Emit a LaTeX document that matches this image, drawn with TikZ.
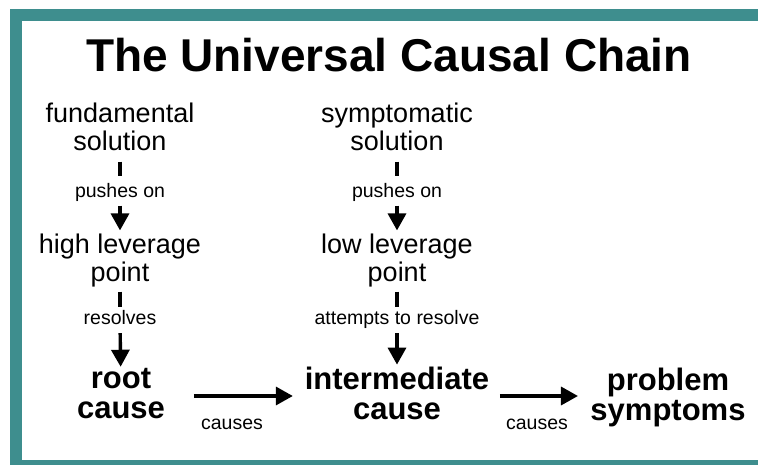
\documentclass[tikz,border=0pt]{standalone}
\usepackage{fontspec}
\setmainfont{Liberation Sans}
\usetikzlibrary{arrows.meta}
\definecolor{frameteal}{RGB}{62,142,142}

\begin{document}
\begin{tikzpicture}[x=1pt,y=-1pt,
  every node/.style={inner sep=0pt, outer sep=0pt, align=center},
  heading/.style={font=\bfseries\fontsize{46}{46}\selectfont},
  concept/.style={font=\fontsize{27}{28}\selectfont},
  keycause/.style={font=\bfseries\fontsize{31}{30}\selectfont},
  linklabel/.style={font=\fontsize{19.5}{20}\selectfont, text height=14pt, text depth=4.1pt},
  conn/.style={line width=3.4pt},
  arr/.style={conn, -{Triangle[length=17pt,width=18pt]}},
]
\useasboundingbox (0,0) rectangle (758,465);
% page and teal frame (open on the right)
\fill[white] (0,0) rectangle (758,465);
\fill[frameteal] (10,9) rectangle (758,465);
\fill[white] (21.5,21) rectangle (758,459.5);

% title
\node[heading] (title) at (389,55) {The Universal Causal Chain};

% solutions
\node[concept] (fund) at (120,126.7) {fundamental\\solution};
\node[concept] (symp) at (397,126.7) {symptomatic\\solution};

% leverage points
\node[concept] (high) at (120,261) {high leverage\\point};
\node[concept] (low)  at (397,261) {low leverage\\point};

% causal chain
\node[keycause] (root)  at (121,394) {root\\cause};
\node[keycause] (inter) at (397,393) {intermediate\\cause};
\node[keycause] (prob)  at (668,397) {problem\\symptoms};

% connector labels
\node[linklabel] (pushA) at (120,192.5) {pushes on};
\node[linklabel] (pushB) at (397,192.5) {pushes on};
\node[linklabel] (resA)  at (120,320) {resolves};
\node[linklabel] (resB)  at (397,320) {attempts to resolve};
\node[linklabel] (causeA) at (232,425) {causes};
\node[linklabel] (causeB) at (537,425) {causes};

% left column
\draw[conn, shorten <=11pt, shorten >=7.4pt] (fund) -- (pushA);
\draw[arr,  shorten <=4pt,  shorten >=4pt]   (pushA) -- (high);
\draw[conn, shorten <=4pt,  shorten >=4pt]   (high) -- (resA);
\draw[arr,  shorten <=4pt,  shorten >=2pt]   (resA) -- (root);

% middle column
\draw[conn, shorten <=11pt, shorten >=7.4pt] (symp) -- (pushB);
\draw[arr,  shorten <=4pt,  shorten >=4pt]   (pushB) -- (low);
\draw[conn, shorten <=4pt,  shorten >=4pt]   (low) -- (resB);
\draw[arr,  shorten <=4pt,  shorten >=2pt]   (resB) -- (inter);

% causes arrows
\draw[arr, shorten <=29pt, shorten >=12pt]     ([yshift=-2pt]root.east) -- ([yshift=-3pt]inter.west);
\draw[arr, shorten <=10.8pt, shorten >=12.5pt] ([yshift=-3pt]inter.east) -- ([yshift=1pt]prob.west);
\end{tikzpicture}
\end{document}
